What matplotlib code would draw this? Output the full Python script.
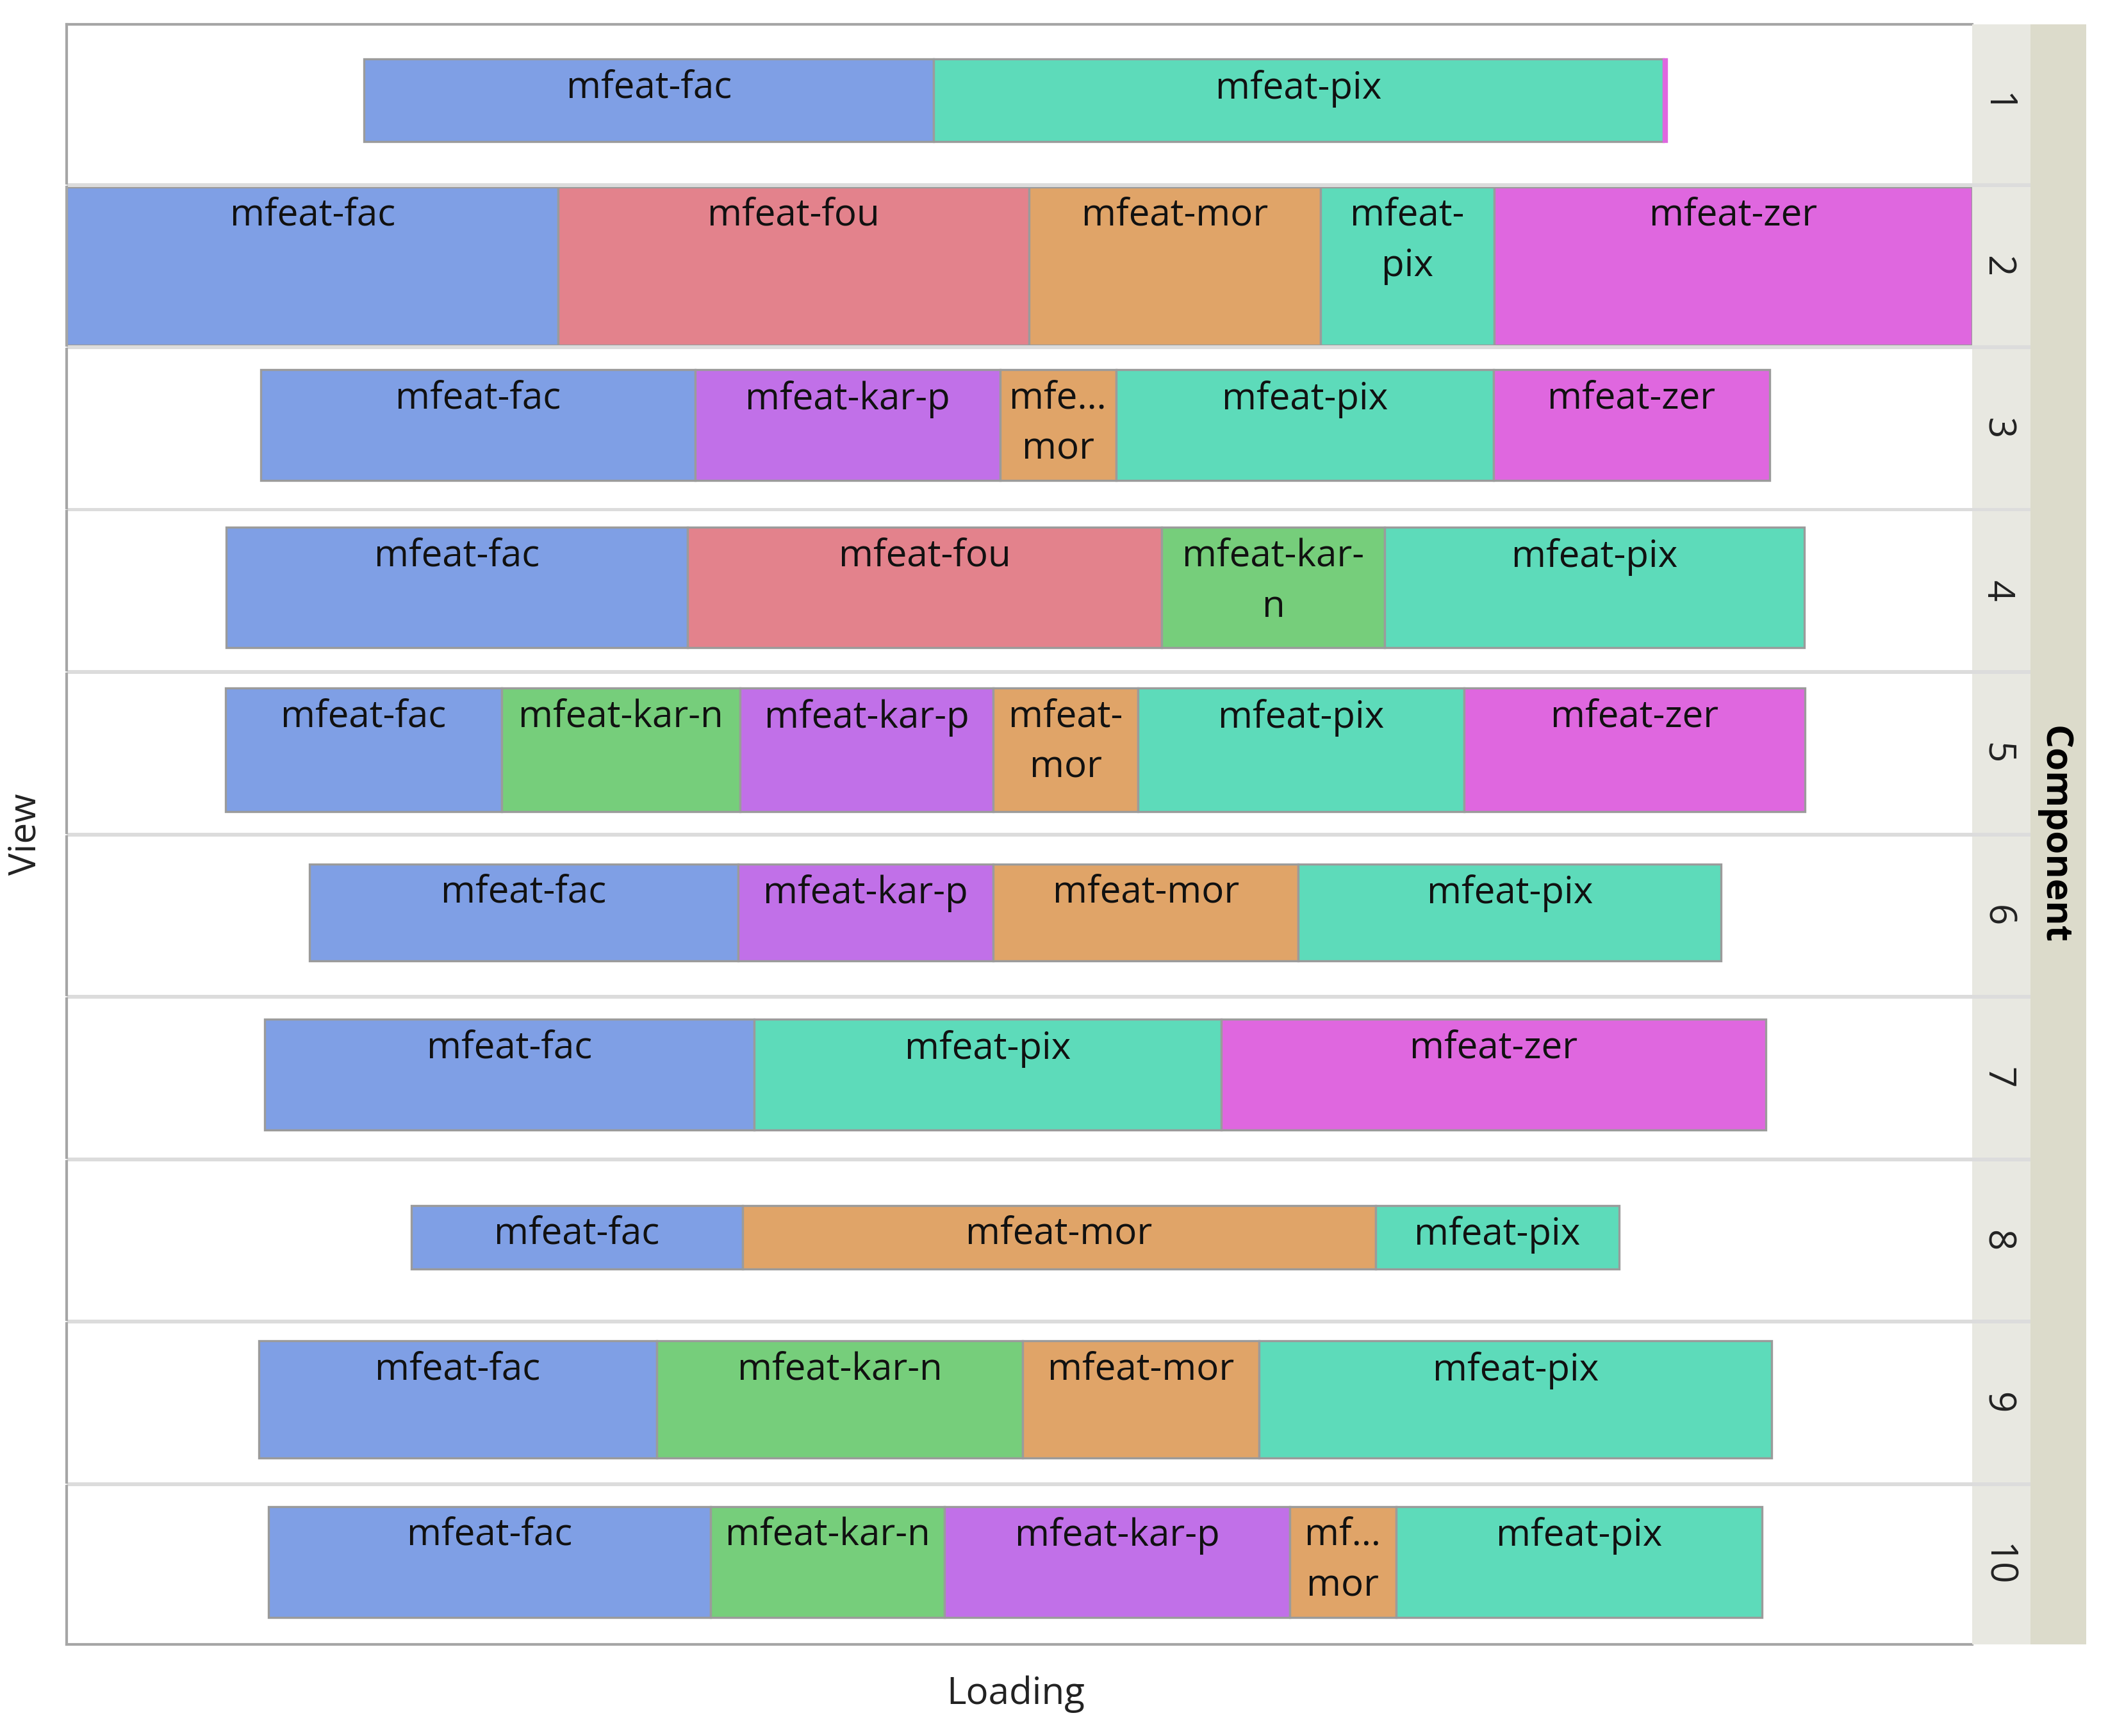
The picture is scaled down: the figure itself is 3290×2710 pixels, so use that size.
import matplotlib.pyplot as plt

plt.rcParams['font.family'] = ['Open Sans', 'DejaVu Sans']

# data (loading per view and component)
views = ['1', '2', '3', '4', '5', '6', '7', '8', '9', '10']
components = ['mfeat-fac', 'mfeat-fou', 'mfeat-kar-n', 'mfeat-kar-p',
              'mfeat-mor', 'mfeat-pix', 'mfeat-zer']
colors = ['#7F9FE5', '#E3828C', '#76CE7B', '#C170E8',
          '#E0A468', '#5DDBBA', '#DF67DF']

fac = [29.9, 25.8, 22.8, 24.2, 14.5, 22.5, 25.7, 17.4, 20.9, 23.2]
fou = [0, 24.7, 0, 24.9, 0, 0, 0, 0, 0, 0]
kar_n = [0, 0, 0, 11.7, 12.5, 0, 0, 0, 19.2, 12.3]
kar_p = [0, 0, 16.0, 0, 13.3, 13.4, 0, 0, 0, 18.1]
mor = [0, 15.3, 6.1, 0, 7.6, 16.0, 0, 33.2, 12.4, 5.6]
pix = [38.3, 9.1, 19.8, 22.0, 17.1, 22.2, 24.5, 12.8, 26.9, 19.2]
zer = [0.15, 25.1, 14.5, 0, 17.9, 0, 28.6, 0, 0, 0]

# relative bar thickness of each view
bar_height = [0.52, 1.0, 0.70, 0.76, 0.78, 0.61, 0.70, 0.40, 0.74, 0.70]

# labels that got wrapped / shortened in narrow segments
wrapped = {
    ('1', 'mfeat-zer'): '',
    ('2', 'mfeat-pix'): 'mfeat-\npix',
    ('3', 'mfeat-mor'): 'mfe\u2026\nmor',
    ('4', 'mfeat-kar-n'): 'mfeat-kar-\nn',
    ('5', 'mfeat-mor'): 'mfeat-\nmor',
    ('10', 'mfeat-mor'): 'mf\u2026\nmor',
}

series = [fac, fou, kar_n, kar_p, mor, pix, zer]

W, H, DPI = 3291, 2710, 200
fig = plt.figure(figsize=(W / DPI, H / DPI), dpi=DPI)


def fx(px):
    return px / W


def fy(py):
    return 1 - py / H


def bare(a):
    a.set_xticks([])
    a.set_yticks([])
    for s in a.spines.values():
        s.set_visible(False)


left, right, strip1, strip2 = 104, 3078, 3169, 3256
top, bottom = 38, 2567
gap = 6
n = len(views)
row_h = (bottom - top - gap * (n - 1)) / n

# light grey band visible between the rows
bg = fig.add_axes([fx(left), fy(bottom), fx(strip1) - fx(left), fy(top) - fy(bottom)])
bg.set_facecolor('#DCDCDC')
bg.set_zorder(-5)
bare(bg)

# outer strip with the facet title
oax = fig.add_axes([fx(strip1), fy(bottom), fx(strip2) - fx(strip1),
                    fy(top) - fy(bottom)])
oax.set_facecolor('#DCDBCB')
bare(oax)
oax.text(0.42, 0.5, 'Component', rotation=270, ha='center', va='center',
         fontsize=21, fontweight='bold', transform=oax.transAxes)

totals = [sum(s[i] for s in series) for i in range(n)]
max_total = max(totals)
shift = 0.22  # bars sit a touch left of the panel centre

for i, view in enumerate(views):
    y0 = top + i * (row_h + gap)
    ax = fig.add_axes([fx(left), fy(y0 + row_h), fx(right) - fx(left), row_h / H])
    sax = fig.add_axes([fx(right), fy(y0 + row_h), fx(strip1) - fx(right), row_h / H])

    cum = (max_total - totals[i]) / 2
    yc = 0.0
    if totals[i] < max_total:
        cum -= shift
        yc = 0.02
    hb = bar_height[i]
    for comp, vals, col in zip(components, series, colors):
        v = vals[i]
        if v <= 0:
            continue
        ax.barh(yc, v, left=cum, height=hb, color=col,
                edgecolor=col if v < 0.5 else '#9B9B9B', linewidth=1.2)
        lab = wrapped.get((view, comp), comp)
        if lab:
            ax.annotate(lab, (cum + v / 2, yc + hb / 2), xytext=(0, -6),
                        textcoords='offset points', ha='center', va='top',
                        fontsize=21, linespacing=1.45, color='#111111')
        cum += v

    ax.set_xlim(0, max_total)
    ax.set_ylim(-0.5, 0.5)
    bare(ax)
    ax.spines['left'].set_visible(True)
    ax.spines['left'].set_color('#A6A6A6')
    ax.spines['left'].set_linewidth(1.5)
    if i == 0:
        ax.spines['top'].set_visible(True)
        ax.spines['top'].set_color('#A6A6A6')
        ax.spines['top'].set_linewidth(1.5)
    if i == n - 1:
        ax.spines['bottom'].set_visible(True)
        ax.spines['bottom'].set_color('#A6A6A6')
        ax.spines['bottom'].set_linewidth(1.5)

    sax.set_facecolor('#E8E8E1')
    bare(sax)
    sax.text(0.42, 0.5, view, rotation=270, ha='center', va='center',
             fontsize=21, color='#222222', transform=sax.transAxes)

fig.text(fx(40), fy((top + bottom) / 2), 'View', rotation=90,
         ha='center', va='center', fontsize=21, color='#222222')
fig.text(fx(1585), fy(2645), 'Loading',
         ha='center', va='center', fontsize=21, color='#222222')

fig.savefig('out.png', dpi=DPI)
